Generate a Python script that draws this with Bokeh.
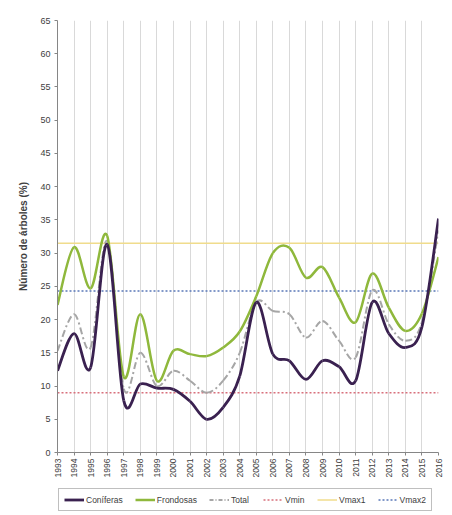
from bokeh.plotting import figure
from bokeh.models import Legend, LegendItem, FixedTicker, ColumnDataSource, Range1d
from bokeh.layouts import column
from bokeh.embed import file_html
from bokeh.resources import INLINE
import math

# ---- data ----
years = [str(y) for y in range(1993, 2017)]
coniferas = [12.3, 17.9, 12.8, 31.3, 7.8, 10.3, 9.7, 9.5, 7.7, 5.0, 6.8, 11.5,
             22.6, 14.8, 13.8, 11.0, 13.8, 12.9, 10.8, 22.6, 17.9, 15.8, 18.9, 35.2]
frondosas = [22.2, 30.9, 24.7, 32.6, 11.4, 20.8, 10.8, 15.3, 14.8, 14.5, 15.8, 18.2,
             23.5, 30.0, 30.8, 26.3, 27.9, 23.3, 19.6, 26.9, 21.8, 18.3, 20.9, 29.4]
total = [15.3, 20.8, 15.8, 31.8, 9.6, 15.0, 10.0, 12.3, 10.8, 9.0, 10.8, 15.0,
         22.6, 21.3, 20.8, 17.3, 19.8, 16.8, 14.3, 24.4, 19.3, 16.8, 19.6, 33.4]
vmin = 9.0
vmax1 = 31.5
vmax2 = 24.3
y_ticks = list(range(0, 70, 5))
series_labels = ["Coníferas", "Frondosas", "Total", "Vmin", "Vmax1", "Vmax2"]

FONT = "Liberation Sans"

n = len(years)
xs = list(range(n))

p = figure(width=450, height=482, output_backend="svg", toolbar_location=None,
           x_range=(0, n - 1), y_range=(0, 65),
           min_border_left=57, min_border_top=20, min_border_right=12,
           min_border_bottom=30)
p.outline_line_color = None
p.background_fill_color = "white"
p.border_fill_color = "white"

# axes
p.yaxis.ticker = FixedTicker(ticks=y_ticks)
p.xaxis.ticker = FixedTicker(ticks=xs)
p.xaxis.major_label_overrides = {i: years[i] for i in xs}
p.xaxis.major_label_orientation = math.pi / 2
for ax in (p.xaxis, p.yaxis):
    ax.axis_line_color = "#868686"
    ax.major_tick_line_color = "#868686"
    ax.minor_tick_line_color = None
    ax.major_tick_out = 3
    ax.major_tick_in = 0
    ax.major_label_text_font = FONT
    ax.major_label_text_color = "#404040"
p.yaxis.major_label_text_font_size = "9px"
p.xaxis.major_label_text_font_size = "8.5px"
p.yaxis.axis_label = "Número de árboles (%)"
p.yaxis.axis_label_text_font = FONT
p.yaxis.axis_label_text_font_size = "10px"
p.yaxis.axis_label_text_font_style = "bold"
p.yaxis.axis_label_text_color = "#404040"
p.yaxis.axis_label_standoff = 8
p.yaxis.major_label_standoff = 4
p.xaxis.major_label_standoff = 3

p.ygrid.grid_line_color = None
p.xgrid.grid_line_color = "#d9d9d9"
p.xgrid.grid_line_width = 1

C_CON = "#3a2150"
C_FRO = "#8fb83c"
C_TOT = "#a6a6a6"
C_VMIN = "#d8707c"
C_VMAX1 = "#f0dc8c"
C_VMAX2 = "#5a78b8"

# horizontal reference lines
x_ends = [xs[0], xs[-1]]
p.line(x_ends, [vmax1, vmax1], line_color=C_VMAX1, line_width=1.5)
p.line(x_ends, [vmax2, vmax2], line_color=C_VMAX2, line_width=1.5, line_dash="2 2")
p.line(x_ends, [vmin, vmin], line_color=C_VMIN, line_width=1.5, line_dash="2 2")


def smooth(vals, **kw):
    # Excel-style smoothed line: Bezier segments with Catmull-Rom control points
    x0, y0, x1, y1, cx0, cy0, cx1, cy1 = [], [], [], [], [], [], [], []
    m = len(vals)
    for i in range(m - 1):
        ip = max(i - 1, 0)
        inn = min(i + 2, m - 1)
        x0.append(xs[i]); y0.append(vals[i])
        x1.append(xs[i + 1]); y1.append(vals[i + 1])
        cx0.append(xs[i] + (xs[i + 1] - xs[ip]) / 6.0)
        cy0.append(vals[i] + (vals[i + 1] - vals[ip]) / 6.0)
        cx1.append(xs[i + 1] - (xs[inn] - xs[i]) / 6.0)
        cy1.append(vals[i + 1] - (vals[inn] - vals[i]) / 6.0)
    src = ColumnDataSource(dict(x0=x0, y0=y0, x1=x1, y1=y1, cx0=cx0, cy0=cy0, cx1=cx1, cy1=cy1))
    return p.bezier(x0="x0", y0="y0", x1="x1", y1="y1", cx0="cx0", cy0="cy0",
                    cx1="cx1", cy1="cy1", source=src, **kw)


smooth(total, line_color=C_TOT, line_width=2, line_dash="7 3 2 3")
smooth(frondosas, line_color=C_FRO, line_width=2.5)
smooth(coniferas, line_color=C_CON, line_width=2.8)

# ---- legend strip (separate figure below the chart) ----
lg = figure(width=450, height=31, output_backend="svg", toolbar_location=None,
            x_axis_type=None, y_axis_type=None,
            x_range=Range1d(0, 1), y_range=Range1d(0, 1),
            min_border_left=57, min_border_right=12, min_border_top=0, min_border_bottom=0)
lg.outline_line_color = None
lg.xgrid.visible = False
lg.ygrid.visible = False
styles = [
    dict(line_color=C_CON, line_width=2.8),
    dict(line_color=C_FRO, line_width=2.5),
    dict(line_color=C_TOT, line_width=2, line_dash="4 2 1 2"),
    dict(line_color=C_VMIN, line_width=1.5, line_dash="2 2"),
    dict(line_color=C_VMAX1, line_width=1.5),
    dict(line_color=C_VMAX2, line_width=1.5, line_dash="2 2"),
]
items = []
for lab, st in zip(series_labels, styles):
    # proxy lines lie outside the strip's visible range; only legend glyphs show
    r = lg.line([-5, -4], [-5, -4], **st)
    items.append(LegendItem(label=lab, renderers=[r]))

legend = Legend(items=items, orientation="horizontal", location=(1, 2))
legend.label_text_font = FONT
legend.label_text_font_size = "8.5px"
legend.label_text_color = "#404040"
legend.glyph_width = 20
legend.glyph_height = 11
legend.label_height = 11
legend.label_standoff = 2
legend.spacing = 12
legend.padding = 5
legend.margin = 0
legend.border_line_color = "#7f7f7f"
legend.border_line_width = 1
lg.add_layout(legend, "center")

layout = column(p, lg, spacing=0)
open("out.html", "w").write(file_html(layout, INLINE))
